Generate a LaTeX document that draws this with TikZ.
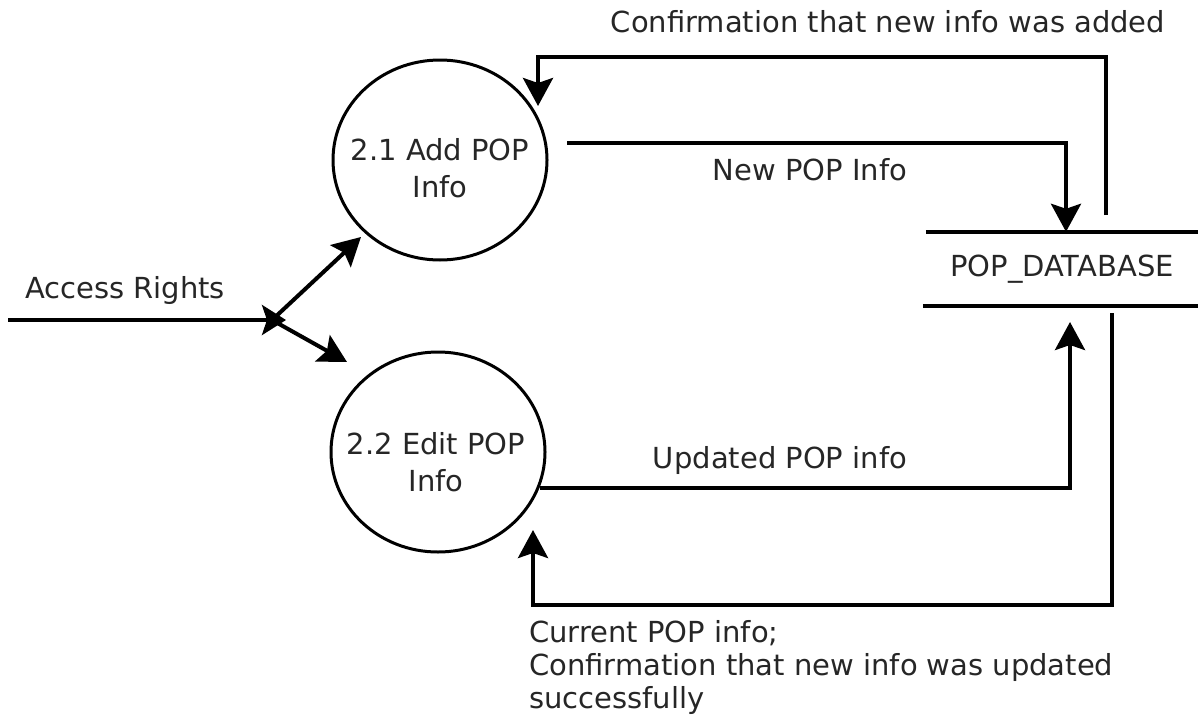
\documentclass[tikz,border=0pt]{standalone}
\usepackage{fontspec}
\setmainfont{DejaVu Sans}
\usetikzlibrary{arrows.meta,shapes.geometric}
\begin{document}
\begin{tikzpicture}[x=1pt,y=-1pt,
  txt/.style={font=\fontsize{29}{33}\selectfont, text=black!85, inner sep=0pt},
  proc/.style={draw, line width=3pt, ellipse, minimum width=214pt, minimum height=200pt, inner sep=0pt},
  proctxt/.style={align=center, font=\fontsize{29}{37}\selectfont, text=black!85, inner sep=0pt},
  flow/.style={line width=4pt, -{Stealth[length=28pt,width=30pt,inset=5pt]}},
  plain/.style={line width=4pt}]
\useasboundingbox (0,0) rectangle (1198,723);

% processes
\node[proc] (p1) at (440,160) {};
\node[proctxt] (p1t) at ([yshift=-8pt]p1.center) {2.1 Add POP\\Info};
\node[proc] (p2) at (438,452) {};
\node[proctxt] (p2t) at ([xshift=-2pt,yshift=-10pt]p2.center) {2.2 Edit POP\\Info};

% data store
\node[txt, minimum width=272pt, minimum height=74pt] (db) at (1062,269) {POP\_DATABASE};
\draw[plain] (db.north west) -- (db.north east);
\draw[plain] ([xshift=-3pt]db.south west) -- (db.south east);

% junction of the access rights flow
\coordinate (j) at (272,320);
\coordinate (in) at (8,320);
\draw[line width=4pt, -{Stealth[length=24pt,width=30pt,inset=5pt]}] (in) -- ([xshift=14pt]j);
\coordinate (a1) at (361,237);
\coordinate (a2) at (347,362);
\draw[flow] (j) -- (a1);
\draw[flow] (j) -- (a2);
\node[txt] (lacc) at (125,290) {Access Rights};

% new info into the store
\coordinate (n0) at (567,143);
\draw[flow] (n0) -| ([xshift=4pt]db.north);
\node[txt] (lnew) at (810,170) {New POP Info};

% confirmation back to 2.1
\coordinate (c0) at (1106,215);
\coordinate (c1) at (538,106);
\draw[flow] (c0) |- (c1 |- 0,57) -- (c1);
\node[txt] (lconf) at (888,22) {Confirmation that new info was added};

% updated info into the store
\coordinate (u0) at (540,488);
\coordinate (u1) at (1070,322);
\draw[flow] (u0) -| (u1);
\node[txt] (lupd) at (780,460) {Updated POP info};

% current info back to 2.2
\coordinate (r0) at (1112,313);
\coordinate (r1) at (533,530);
\draw[flow] (r0) |- (r1 |- 0,605) -- (r1);
\node[txt, align=left, anchor=north west] (lcur) at (529,620)
  {Current POP info;\\Confirmation that new info was updated\\successfully};
\end{tikzpicture}
\end{document}
